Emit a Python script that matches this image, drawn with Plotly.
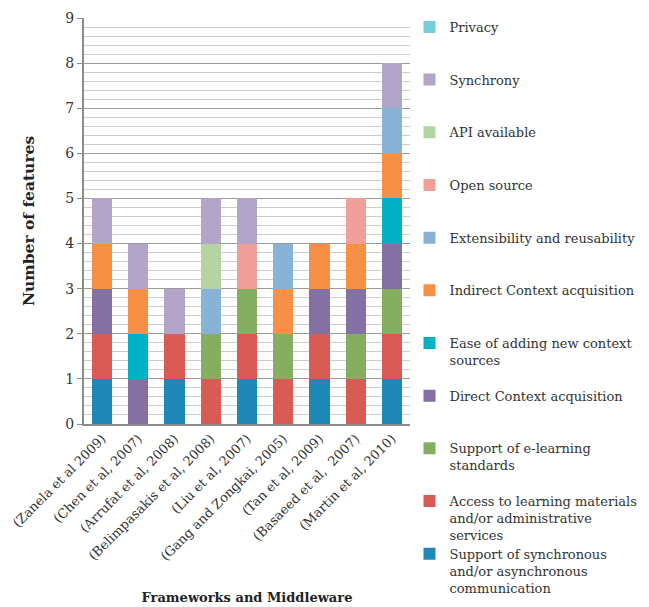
import plotly.graph_objects as go

categories = ["(Zanela et al 2009)", "(Chen et al, 2007)", "(Arrufat et al, 2008)",
              "(Belimpasakis et al, 2008)", "(Liu et al, 2007)", "(Gang and Zongkai, 2005)",
              "(Tan et al, 2009)", "(Basaeed et al,  2007)", "(Martin et al, 2010)"]

# stacking order: bottom -> top
sync_comm     = [1, 0, 1, 0, 1, 0, 1, 0, 1]
access        = [1, 0, 1, 1, 1, 1, 1, 1, 1]
elearning     = [0, 0, 0, 1, 1, 1, 0, 1, 1]
direct_ctx    = [1, 1, 0, 0, 0, 0, 1, 1, 1]
ease_sources  = [0, 1, 0, 0, 0, 0, 0, 0, 1]
indirect_ctx  = [1, 1, 0, 0, 0, 1, 1, 1, 1]
extensibility = [0, 0, 0, 1, 0, 1, 0, 0, 1]
open_source   = [0, 0, 0, 0, 1, 0, 0, 1, 0]
api_available = [0, 0, 0, 1, 0, 0, 0, 0, 0]
synchrony     = [1, 1, 1, 1, 1, 0, 0, 0, 1]
privacy       = [0, 0, 0, 0, 0, 0, 0, 0, 0]

series = [
    ("Support of synchronous<br>and/or asynchronous<br>communication", sync_comm, "#1f88b8"),
    ("Access to learning materials<br>and/or administrative<br>services", access, "#d95b55"),
    ("Support of e-learning<br>standards", elearning, "#86ae60"),
    ("Direct Context acquisition", direct_ctx, "#8570a3"),
    ("Ease of adding new context<br>sources", ease_sources, "#00b2c4"),
    ("Indirect Context acquisition", indirect_ctx, "#f79045"),
    ("Extensibility and reusability", extensibility, "#88b3d6"),
    ("Open source", open_source, "#f09e99"),
    ("API available", api_available, "#b4d5a3"),
    ("Synchrony", synchrony, "#b3a5c7"),
    ("Privacy", privacy, "#75cfda"),
]

FONT = "DejaVu Serif"
PLOT_LEFT, PLOT_RIGHT = 84, 410
PLOT_TOP, PLOT_BOTTOM = 18, 424
PLOT_W = PLOT_RIGHT - PLOT_LEFT
PLOT_H = PLOT_BOTTOM - PLOT_TOP

fig = go.Figure()
layout_legends = {}
n = len(series)
for k, (name, vals, color) in enumerate(series):
    idx = n - 1 - k  # legend slot from top
    key = "legend" if idx == 0 else f"legend{idx + 1}"
    fig.add_trace(go.Bar(
        x=categories, y=vals, name=name, marker=dict(color=color, line=dict(width=0)),
        legend=key,
    ))
    center_px = 27 + 52.67 * idx
    top_px = center_px - 15
    layout_legends[key] = dict(
        x=(409.5 - PLOT_LEFT) / PLOT_W, xanchor="left",
        y=(PLOT_BOTTOM - top_px) / PLOT_H, yanchor="top",
        valign="top", bgcolor="rgba(0,0,0,0)",
        font=dict(family=FONT, size=13, color="#333333"),
    )

fig.update_layout(
    barmode="stack",
    bargap=0.44,
    width=649, height=607,
    margin=dict(l=PLOT_LEFT, r=649 - PLOT_RIGHT, t=PLOT_TOP, b=607 - PLOT_BOTTOM, autoexpand=False),
    plot_bgcolor="white", paper_bgcolor="white",
    font=dict(family=FONT, size=13, color="#333333"),
    showlegend=True,
    **layout_legends,
)
fig.update_yaxes(
    range=[0, 9], dtick=1, tick0=0, automargin=False,
    showgrid=True, gridcolor="#9a9a9a", gridwidth=1,
    minor=dict(dtick=0.2, showgrid=True, gridcolor="#cdcdcd", gridwidth=1),
    showline=True, linecolor="#8c8c8c", linewidth=2,
    ticks="outside", ticklen=5, tickcolor="#8c8c8c",
    tickfont=dict(family=FONT, size=14, color="#333333"),
    zeroline=False,
    title=dict(text="<b>Number of features</b>", font=dict(family=FONT, size=15.5, color="#222222"), standoff=27),
)
fig.update_xaxes(
    showline=True, linecolor="#8c8c8c", linewidth=2, automargin=False,
    ticks="", tickangle=-45,
    tickfont=dict(family=FONT, size=13, color="#333333"),
    title=dict(text="<b>Frameworks and Middleware</b>", font=dict(family=FONT, size=13, color="#222222"), standoff=30),
)

fig.write_html("out.html")
